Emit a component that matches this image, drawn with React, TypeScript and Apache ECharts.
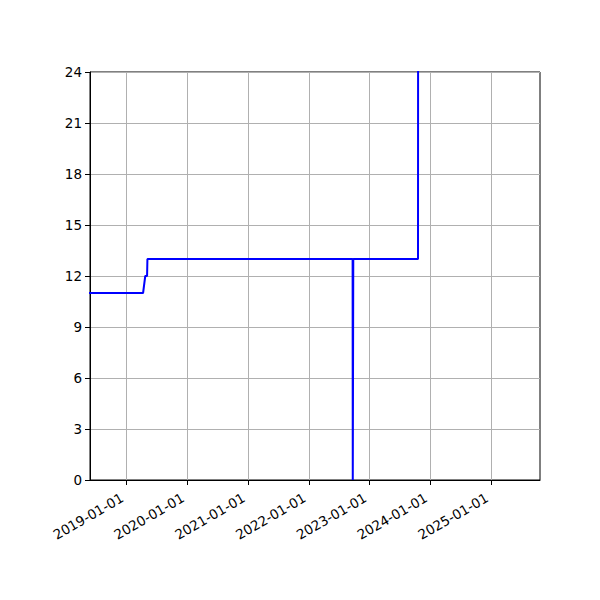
import React, { useEffect, useRef } from "react";
import * as echarts from "echarts";

const dates = [
  "2018-05-01",
  "2019-04-11",
  "2019-04-24",
  "2019-05-05",
  "2019-05-07",
  "2022-09-21",
  "2022-09-22",
  "2022-09-24",
  "2022-09-25",
  "2023-10-19",
  "2023-10-20",
];
const values = [11, 11, 12, 12, 13, 13, 0, 0, 13, 13, 40];

const tickDates = [
  "2019-01-01",
  "2020-01-01",
  "2021-01-01",
  "2022-01-01",
  "2023-01-01",
  "2024-01-01",
  "2025-01-01",
];

const xMin = "2018-05-27";
const xMax = "2025-10-21";

const ts = (d: string) => new Date(d + "T00:00:00Z").getTime();

const pad = (n: number) => (n < 10 ? "0" + n : "" + n);
const fmt = (v: number) => {
  const d = new Date(v);
  return d.getUTCFullYear() + "-" + pad(d.getUTCMonth() + 1) + "-" + pad(d.getUTCDate());
};

export default function App() {
  const ref = useRef<HTMLDivElement>(null);
  useEffect(() => {
    if (!ref.current) return;
    const chart = echarts.init(ref.current, undefined, { renderer: "svg" });
    const tickVals = tickDates.map(ts);
    const font = "DejaVu Sans";
    chart.setOption({
      animation: false,
      textStyle: { fontFamily: font },
      grid: {
        left: 90,
        right: 60,
        top: 72,
        bottom: 120,
        show: true,
        borderColor: "#000",
        borderWidth: 1,
        backgroundColor: "transparent",
      },
      xAxis: {
        type: "value",
        min: ts(xMin),
        max: ts(xMax),
        axisLine: { show: true, lineStyle: { color: "#000", width: 1 } },
        axisTick: {
          show: true,
          inside: false,
          length: 5,
          lineStyle: { color: "#000", width: 1 },
          customValues: tickVals,
        },
        axisLabel: {
          customValues: tickVals,
          formatter: (v: number) => fmt(v),
          rotate: 30,
          fontSize: 13.5,
          color: "#000",
          fontFamily: font,
          margin: 14,
          padding: [0, 5, 0, 0],
        },
        splitLine: { show: true, lineStyle: { color: "#b0b0b0", width: 1 } },
      },
      yAxis: {
        type: "value",
        min: 0,
        max: 24,
        interval: 3,
        axisLine: { show: true, lineStyle: { color: "#000", width: 1 } },
        axisTick: { show: true, inside: false, length: 5, lineStyle: { color: "#000", width: 1 } },
        axisLabel: { fontSize: 13.5, color: "#000", fontFamily: font, margin: 8 },
        splitLine: { show: true, lineStyle: { color: "#b0b0b0", width: 1 } },
      },
      series: [
        {
          type: "line",
          data: dates.map((d, i) => [ts(d), values[i]]),
          showSymbol: false,
          symbol: "none",
          clip: true,
          lineStyle: { color: "#0000ff", width: 2 },
        },
      ],
    });
    return () => chart.dispose();
  }, []);
  return (
    <div
      ref={ref}
      style={{ position: "fixed", left: 0, top: 0, width: 600, height: 600, background: "#fff" }}
    />
  );
}
